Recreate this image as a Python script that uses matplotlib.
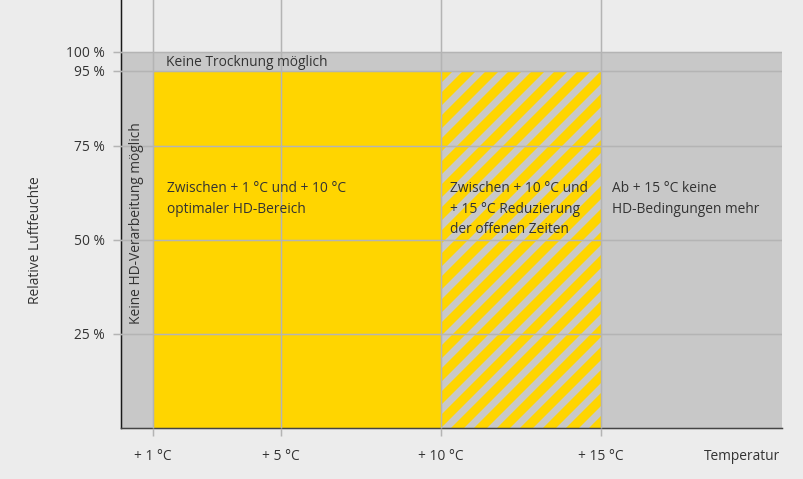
import matplotlib
matplotlib.use("Agg")
import matplotlib.pyplot as plt
from matplotlib.patches import Rectangle

# -------------------------------------------------------
# Daten
# -------------------------------------------------------
temp_ticks = [1, 5, 10, 15]
temp_labels = ["+ 1 °C", "+ 5 °C", "+ 10 °C", "+ 15 °C"]
rh_ticks = [25, 50, 75, 95, 100]
rh_labels = ["25 %", "50 %", "75 %", "95 %", "100 %"]

t_min_hd = 1       # ab hier HD-Verarbeitung
t_opt_max = 10     # Ende optimaler Bereich
t_red_max = 15     # Ende reduzierte offene Zeiten
rh_max_dry = 95    # bis hier Trocknung moeglich
rh_max = 100

text_opt = "Zwischen + 1 °C und + 10 °C\noptimaler HD-Bereich"
text_red = "Zwischen + 10 °C und\n+ 15 °C Reduzierung\nder offenen Zeiten"
text_hot = "Ab + 15 °C keine\nHD-Bedingungen mehr"
text_dry = "Keine Trocknung möglich"
text_cold = "Keine HD-Verarbeitung möglich"

# -------------------------------------------------------
# Stil
# -------------------------------------------------------
DPI = 138
PX = 72 / DPI  # Punkte pro Pixel
BG = "#ececec"
GREY = "#c8c8c8"
YELLOW = "#ffd500"
GRID = "#b4b4b4"
TXT = "#333333"
FS = 13.8 * PX

plt.rcParams["font.family"] = ["Open Sans", "DejaVu Sans"]
plt.rcParams["hatch.linewidth"] = 7 * PX

fig = plt.figure(figsize=(803 / DPI, 479 / DPI), dpi=DPI, facecolor=BG)
ax = fig.add_axes([121 / 803, 51 / 479, 661 / 803, 428 / 479])
ax.set_facecolor(BG)

x_max = 661 / 32
ax.set_xlim(0, x_max)
ax.set_ylim(0, 113.8)

# Flaechen
ax.add_patch(Rectangle((0, 0), x_max, rh_max, facecolor=GREY, lw=0, zorder=1))
ax.add_patch(Rectangle((t_min_hd, 0), t_opt_max - t_min_hd, rh_max_dry,
                       facecolor=YELLOW, lw=0, zorder=1.2))
ax.add_patch(Rectangle((t_opt_max, 0), t_red_max - t_opt_max, rh_max_dry,
                       facecolor=YELLOW, edgecolor=GREY, hatch="//", lw=0, zorder=1.2))

# Achsen
ax.set_xticks(temp_ticks, temp_labels)
ax.set_yticks(rh_ticks, rh_labels)
ax.set_axisbelow(False)
ax.grid(True, color=GRID, lw=1.5 * PX)
ax.tick_params(axis="x", length=8 * PX, width=1.5 * PX, color=GRID,
               pad=13 * PX, labelsize=FS, labelcolor=TXT)
ax.tick_params(axis="y", length=8 * PX, width=1.5 * PX, color=GRID,
               pad=8 * PX, labelsize=FS, labelcolor=TXT)
for s in ["top", "right"]:
    ax.spines[s].set_visible(False)
ax.spines["left"].set_color("#1a1a1a")
ax.spines["left"].set_linewidth(1.5 * PX)
ax.spines["bottom"].set_color("#444444")
ax.spines["bottom"].set_linewidth(1.5 * PX)

# Texte
ax.text(1.42, 97.3, text_dry, fontsize=FS, color=TXT, va="center", ha="left")
ax.text(0.5, 54.5, text_cold, fontsize=FS, color=TXT, va="center", ha="center",
        rotation=90)
for x0, txt in [(1.44, text_opt), (10.28, text_red), (15.34, text_hot)]:
    ax.text(x0, 65.6, txt, fontsize=FS, color=TXT, va="top", ha="left",
            linespacing=1.5)

ax.text(-86 / 661, 50, "Relative Luftfeuchte", transform=ax.get_yaxis_transform(),
        fontsize=FS, color=TXT, rotation=90, va="center", ha="center")
ax.annotate("Temperatur", xy=(1, 0), xycoords="axes fraction",
            xytext=(-2 * PX, -28 * PX), textcoords="offset points",
            fontsize=FS, color=TXT, ha="right", va="center")

fig.savefig("out.png", dpi=DPI, facecolor=BG)
